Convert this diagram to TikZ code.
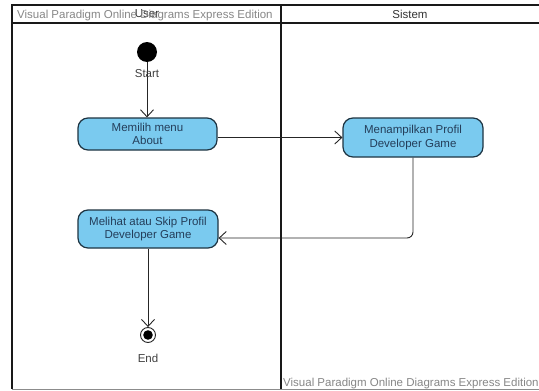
\documentclass[tikz,border=0pt]{standalone}
\usepackage{fontspec}
\setmainfont{Liberation Sans}
\usetikzlibrary{arrows.meta,calc}
\definecolor{actfill}{RGB}{122,202,239}
\definecolor{actline}{RGB}{30,52,66}
\definecolor{acttext}{RGB}{36,62,90}
\definecolor{wmark}{RGB}{135,135,135}
\definecolor{lane}{RGB}{25,25,25}
\tikzset{
  activity/.style={draw=actline, line width=1.2pt, fill=actfill, rounded corners=10pt,
    text=acttext, align=center, font=\fontsize{11.5}{13.5}\selectfont, inner sep=0pt},
  flow/.style={draw=black!85, line width=0.9pt, -{Straight Barb[length=7pt,width=13pt,line width=0.9pt]}},
  lanerule/.style={draw=lane, line width=1.4pt},
  lbl/.style={font=\fontsize{11.5}{13}\selectfont, text=black!75, inner sep=0pt},
  wm/.style={font=\fontsize{11.5}{13}\selectfont, text=wmark, inner sep=0pt, anchor=base west},
}
\begin{document}
\begin{tikzpicture}[x=1pt,y=-1pt]
\useasboundingbox (0,0) rectangle (539,391);
\fill[white] (0,0) rectangle (539,391);

% swimlane frame
\draw[lanerule] (539,5) -- (12,5) -- (12,389);
\draw[lanerule] (12,23) -- (539,23);
\draw[lanerule] (281,5) -- (281,389);
\draw[draw=black!45, line width=1pt] (12,389.5) -- (539,389.5);

% lane headers
\node[lbl, text=black!80] (huser) at (147,14) {User};
\node[lbl, text=black!80] (hsys) at (410,14) {Sistem};
\node[wm] (wm1) at (17,18) {Visual Paradigm Online Diagrams Express Edition};
\node[wm] (wm2) at (283,386) {Visual Paradigm Online Diagrams Express Edition};

% initial and final nodes
\node[circle, fill=black, minimum size=20pt, inner sep=0pt] (start) at (147,52) {};
\node[circle, draw=black!85, line width=0.9pt, minimum size=15pt, inner sep=0pt] (end) at (148,335) {};
\fill[black] (end.center) circle (4.8pt);

% activities
\node[activity, minimum width=139pt, minimum height=32pt] (b1) at (147.5,134) {Memilih menu\\About};
\node[activity, minimum width=140pt, minimum height=39pt] (b2) at (413,137.5) {Menampilkan Profil\\Developer Game};
\node[activity, minimum width=140pt, minimum height=38pt] (b3) at (148,229) {Melihat atau Skip Profil\\Developer Game};

% control flows
\draw[flow] (start) -- (start |- b1.north);
\draw[flow] (b1.east |- b2.west) -- (b2.west);
\draw[flow, rounded corners=6pt] (b2.south) |- ($(b3.east)+(0,9)$);
\draw[flow] (b3.south -| end) -- (end.north);

% node labels
\node[lbl] (lstart) at (147,74) {Start};
\node[lbl] (lend) at (148,358) {End};
\end{tikzpicture}
\end{document}
